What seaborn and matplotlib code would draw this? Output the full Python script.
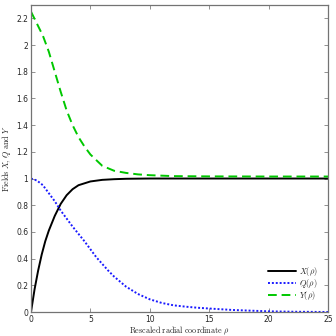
import matplotlib
matplotlib.use("Agg")
import matplotlib.pyplot as plt
import seaborn as sns
from matplotlib.ticker import FuncFormatter, MultipleLocator

# Data
X_rho = [0, 0.3, 0.6, 0.9, 1.2, 1.5, 2.0, 2.5, 3.0, 3.5, 4.0, 5.0, 6.0, 7.0, 8.0, 10, 12, 15, 20, 25]
X_val = [0, 0.17, 0.31, 0.43, 0.53, 0.61, 0.72, 0.81, 0.875, 0.92, 0.95, 0.978, 0.99, 0.995, 0.998, 1.0, 1.0, 1.0, 1.0, 1.0]

Q_rho = [0, 0.5, 1.0, 1.5, 2.0, 2.5, 3.0, 3.5, 4.0, 4.5, 5.0, 5.5, 6.0, 6.5, 7.0, 8.0, 9.0, 10, 11, 12, 13, 14, 15, 17, 20, 22, 25]
Q_val = [1.0, 0.985, 0.95, 0.89, 0.83, 0.76, 0.70, 0.64, 0.585, 0.53, 0.47, 0.41, 0.36, 0.31, 0.265, 0.19, 0.135, 0.095, 0.068, 0.05, 0.04, 0.032, 0.026, 0.015, 0.005, 0.002, 0.0]

Y_rho = [0, 0.5, 1.0, 1.5, 2.0, 2.5, 3.0, 3.5, 4.0, 4.5, 5.0, 6.0, 7.0, 8.0, 9.0, 10, 12, 15, 20, 25]
Y_val = [2.25, 2.16, 2.07, 1.95, 1.80, 1.65, 1.51, 1.40, 1.31, 1.24, 1.18, 1.095, 1.058, 1.042, 1.031, 1.025, 1.018, 1.016, 1.015, 1.015]

labels = [r"$X(\rho)$", r"$Q(\rho)$", r"$Y(\rho)$"]
x_ticks = [0, 5, 10, 15, 20, 25]

sns.set_theme(style="white")
plt.rcParams["mathtext.fontset"] = "cm"
plt.rcParams["font.family"] = ["DejaVu Sans"]

fig = plt.figure(figsize=(3.36, 3.36), dpi=100)
ax = fig.add_axes([31/336, 1 - 312/336, 297/336, 307/336])

sns.lineplot(x=X_rho, y=X_val, ax=ax, color="black", lw=1.4, label=labels[0])
sns.lineplot(x=Q_rho, y=Q_val, ax=ax, color="#1a1aff", lw=1.4, ls=(0, (1, 1)), label=labels[1])
sns.lineplot(x=Y_rho, y=Y_val, ax=ax, color="#00c800", lw=1.4, ls=(0, (4.5, 2.5)), label=labels[2])

ax.set_xlim(0, 25)
ax.set_ylim(0, 2.3)
ax.set_xticks(x_ticks)
ax.yaxis.set_major_locator(MultipleLocator(0.2))
ax.yaxis.set_major_formatter(FuncFormatter(lambda v, p: f"{v:.1f}".rstrip("0").rstrip(".") if v > 1e-9 else "0"))
ax.tick_params(direction="in", length=3, width=0.6, color="0.5", labelsize=5.5,
               top=True, right=True, bottom=True, left=True, pad=2)
for s in ax.spines.values():
    s.set_color("0.45")
    s.set_linewidth(0.9)

ax.set_xlabel(r"$\mathrm{Rescaled\ radial\ coordinate}\ \rho$", fontsize=5.8, labelpad=0.5)
ax.set_ylabel(r"$\mathrm{Fields}\ X,\, Q\ \mathrm{and}\ Y$", fontsize=5.8, labelpad=2)

leg = ax.legend(loc="lower right", frameon=False, fontsize=6, handlelength=3.3,
                labelspacing=-0.1, borderaxespad=0.8, handletextpad=0.4)

fig.savefig("out.png", dpi=100)
